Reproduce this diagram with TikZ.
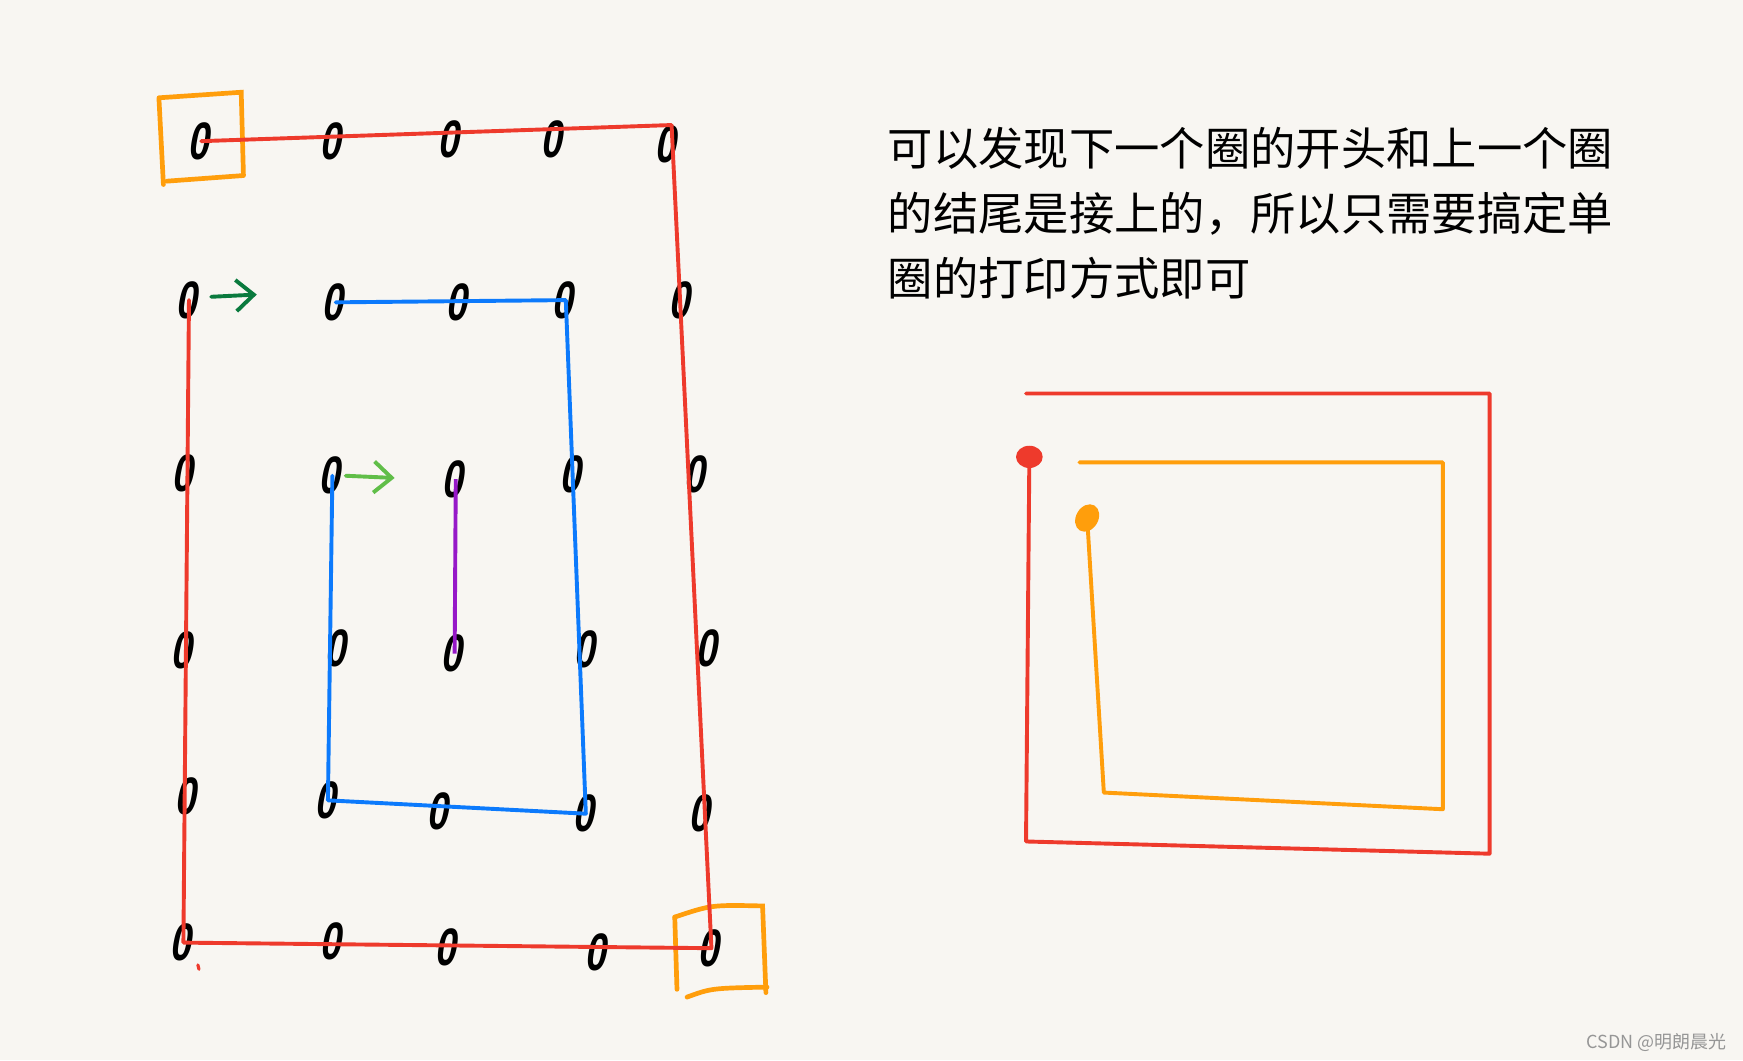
\documentclass[tikz,border=0pt]{standalone}
\usepackage{fontspec}
\usepackage{xcolor}
\usepackage{tikz}
\usetikzlibrary{arrows.meta, positioning, shapes.geometric, calc}
\newfontfamily\cjkfont{Noto Sans CJK SC}
\newfontfamily\zerofont{Liberation Sans}

\definecolor{papel}{RGB}{248,246,242}
\definecolor{rojo}{RGB}{238,58,44}
\definecolor{azul}{RGB}{12,122,252}
\definecolor{naranja}{RGB}{255,158,12}
\definecolor{verdeosc}{RGB}{10,122,62}
\definecolor{verdecla}{RGB}{96,190,72}
\definecolor{morado}{RGB}{150,24,200}
\definecolor{marca}{RGB}{150,150,150}

\begin{document}
\begin{tikzpicture}[
    % Estilo de cada cero escrito a mano
    zero/.style={
        font=\zerofont\bfseries\fontsize{13.5}{13.5}\selectfont,
        inner sep=0pt,
        xscale=0.72,
        xslant=0.25,
        transform shape
    },
    % Estilos de las lineas
    linearoja/.style={draw=rojo, line width=1pt, line join=round, line cap=round},
    lineaazul/.style={draw=azul, line width=1pt, line join=round, line cap=round},
    linearnj/.style={draw=naranja, line width=1pt, line join=round, line cap=round},
    cajita/.style={draw=naranja, line width=1.2pt, line cap=round},
    flecha/.style={line width=1pt, line cap=round, -{Straight Barb[length=1.6mm, width=2.8mm]}},
    % Estilo del texto
    texto/.style={font=\cjkfont\fontsize{11.6}{16}\selectfont, inner sep=0pt, anchor=base west}
]

    % --- FONDO ---
    \fill[papel] (0,0) rectangle (15.68,-9.54);
    \useasboundingbox (0,0) rectangle (15.68,-9.54);

    % --- MATRIZ DE CEROS ---
    \foreach \n/\x/\y in {
        11/1.81/1.27, 12/3.00/1.27, 13/4.06/1.25, 14/4.99/1.25, 15/6.01/1.30,
        21/1.70/2.70, 22/3.02/2.72, 23/4.13/2.72, 24/5.09/2.70, 25/6.14/2.70,
        31/1.67/4.26, 32/2.99/4.28, 33/4.10/4.31, 34/5.16/4.27, 35/6.27/4.27,
        41/1.66/5.85, 42/3.04/5.83, 43/4.09/5.88, 44/5.28/5.84, 45/6.38/5.83,
        51/1.69/7.16, 52/2.95/7.20, 53/3.96/7.30, 54/5.27/7.32, 55/6.32/7.32,
        61/1.65/8.48, 62/3.00/8.47, 63/4.03/8.52, 64/5.38/8.57, 65/6.40/8.53}
        \node[zero] (z\n) at (\x,-\y) {0};

    % --- CAJAS NARANJAS (inicio y fin) ---
    \draw[cajita] (1.43,-0.89) -- (1.47,-1.66);
    \draw[cajita] (1.43,-0.88) -- (2.17,-0.83) -- (2.19,-1.58);
    \draw[cajita] (1.50,-1.63) -- (2.18,-1.58);
    \draw[cajita] (6.07,-8.25) -- (6.09,-8.90);
    \draw[cajita] (6.07,-8.25) .. controls (6.40,-8.14) .. (6.86,-8.15) -- (6.89,-8.93);
    \draw[cajita] (6.18,-8.97) .. controls (6.40,-8.89) .. (6.90,-8.88);

    % --- VUELTA EXTERIOR (roja) ---
    \draw[linearoja] (z11.center) -- (z15.north) -- (z65.center) -- (z61.center) -- (z21.center);
    \draw[rojo, line width=0.8pt, line cap=round] (1.78,-8.68) -- (1.79,-8.72);

    % --- VUELTA INTERIOR (azul) ---
    \draw[lineaazul] (z22.center) -- (z24.center) -- (z54.center) -- (z52.center) -- (z32.center);

    % --- CENTRO (morado) ---
    \draw[morado, line width=1pt] (z33.center) -- (z43.center);

    % --- FLECHAS VERDES ---
    \coordinate (fin1) at (2.31,-2.65);
    \coordinate (fin2) at (3.55,-4.30);
    \draw[flecha, verdeosc] ([xshift=0.1cm, yshift=0.03cm]z21.east) -- (fin1);
    \draw[flecha, verdecla] ([xshift=0.02cm]z32.east) -- (fin2);

    % --- TEXTO ---
    \node[texto] (txt1) at (7.98,-1.49) {可以发现下一个圈的开头和上一个圈};
    \node[texto] (txt2) at ([yshift=-0.585cm]txt1.base west) {的结尾是接上的，所以只需要搞定单};
    \node[texto] (txt3) at ([yshift=-0.585cm]txt2.base west) {圈的打印方式即可};

    % --- ESQUEMA DE LA DERECHA ---
    \coordinate (pr) at (9.26,-4.11);
    \coordinate (pn) at (9.78,-4.66);
    \draw[linearoja] (pr) -- (9.23,-7.57) -- (13.40,-7.68) -- (13.40,-3.54) -- (9.23,-3.54);
    \fill[rojo] (pr) ellipse (0.12 and 0.10);
    \draw[linearnj] (9.71,-4.16) -- (12.98,-4.16) -- (12.98,-7.28) -- (9.93,-7.13) -- (pn);
    \fill[naranja, rotate around={-30:(pn)}] (pn) ellipse (0.10 and 0.13);

    % --- MARCA DE AGUA ---
    \node[font=\cjkfont\fontsize{4.6}{5}\selectfont, text=marca, anchor=east, inner sep=0pt] (marca) at (15.54,-9.38) {CSDN @明朗晨光};

\end{tikzpicture}
\end{document}
